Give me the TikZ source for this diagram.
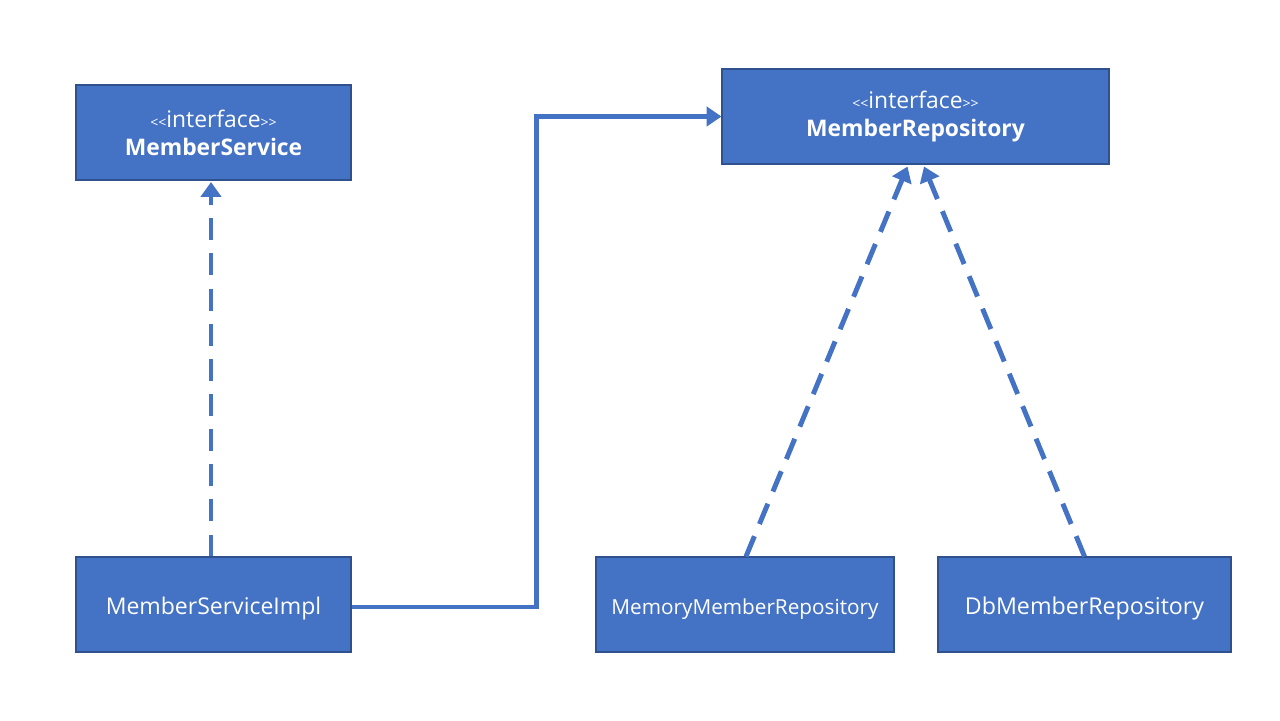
\documentclass[tikz,border=0pt]{standalone}
\usepackage{fontspec}
\setmainfont{Open Sans}
\usepackage{tikz}
\usetikzlibrary{arrows.meta}
\usetikzlibrary{calc,positioning}

\definecolor{umlblue}{HTML}{4472C4}
\definecolor{umledge}{HTML}{2F528F}

\newcommand{\stereotag}[1]{{\fontsize{13}{15}\selectfont{\fontsize{8}{9}\selectfont\mbox{<}\mbox{<}}#1{\fontsize{8}{9}\selectfont\mbox{>}\mbox{>}}}}

\begin{document}
\begin{tikzpicture}[x=0.02cm, y=-0.02cm,
			cls/.style={rectangle, draw=umledge, line width=0.6pt, fill=umlblue,
					text=white, align=center, minimum height=95*0.02cm, inner sep=0pt},
			impl box/.style={cls, text depth=0pt, text height=2.1ex},
			link/.style={draw=umlblue, line width=2.8pt},
			realize/.style={link, dash pattern=on 12.5pt off 7.5pt, -{Triangle[length=8.5pt, width=11.5pt]}},
			assoc/.style={link, -{Triangle[length=8.5pt, width=11pt]}},]
		\useasboundingbox (0,0) rectangle (1280,720);

		\node (service) [cls, minimum width=275*0.02cm] at (213.5,132.5)
		{
			\stereotag{interface} \\[4pt]
			{\fontsize{13}{15}\selectfont\bfseries MemberService}
		};

		\node (repo) [cls, minimum width=387*0.02cm] at (915.5,116.5)
		{
			\stereotag{interface} \\[4pt]
			{\fontsize{13}{15}\selectfont\bfseries MemberRepository}
		};

		\node (impl) [impl box, minimum width=275*0.02cm, font=\fontsize{13.1}{15}\selectfont] at (213.5,604.5) {MemberServiceImpl};
		\node (memory) [impl box, minimum width=298*0.02cm, font=\fontsize{11.8}{14}\selectfont] at (745,604.5) {MemoryMemberRepository};
		\node (db) [impl box, minimum width=293*0.02cm, font=\fontsize{13.2}{15}\selectfont] at (1084.5,604.5) {DbMemberRepository};

		% implements
		\draw [realize] ([xshift=-0.05cm]impl.north) -- ([xshift=-0.05cm,yshift=-0.03cm]service.south);
		\draw [realize] ([xshift=0.02cm]memory.north) -- ([xshift=-0.16cm,yshift=-0.04cm]repo.south);
		\draw [realize] (db.north) -- ([xshift=0.17cm,yshift=-0.04cm]repo.south);

		% uses
		\draw [assoc] ([yshift=-0.05cm]impl.east) -- ++(185,0) |- (repo.west);
	\end{tikzpicture}
\end{document}
